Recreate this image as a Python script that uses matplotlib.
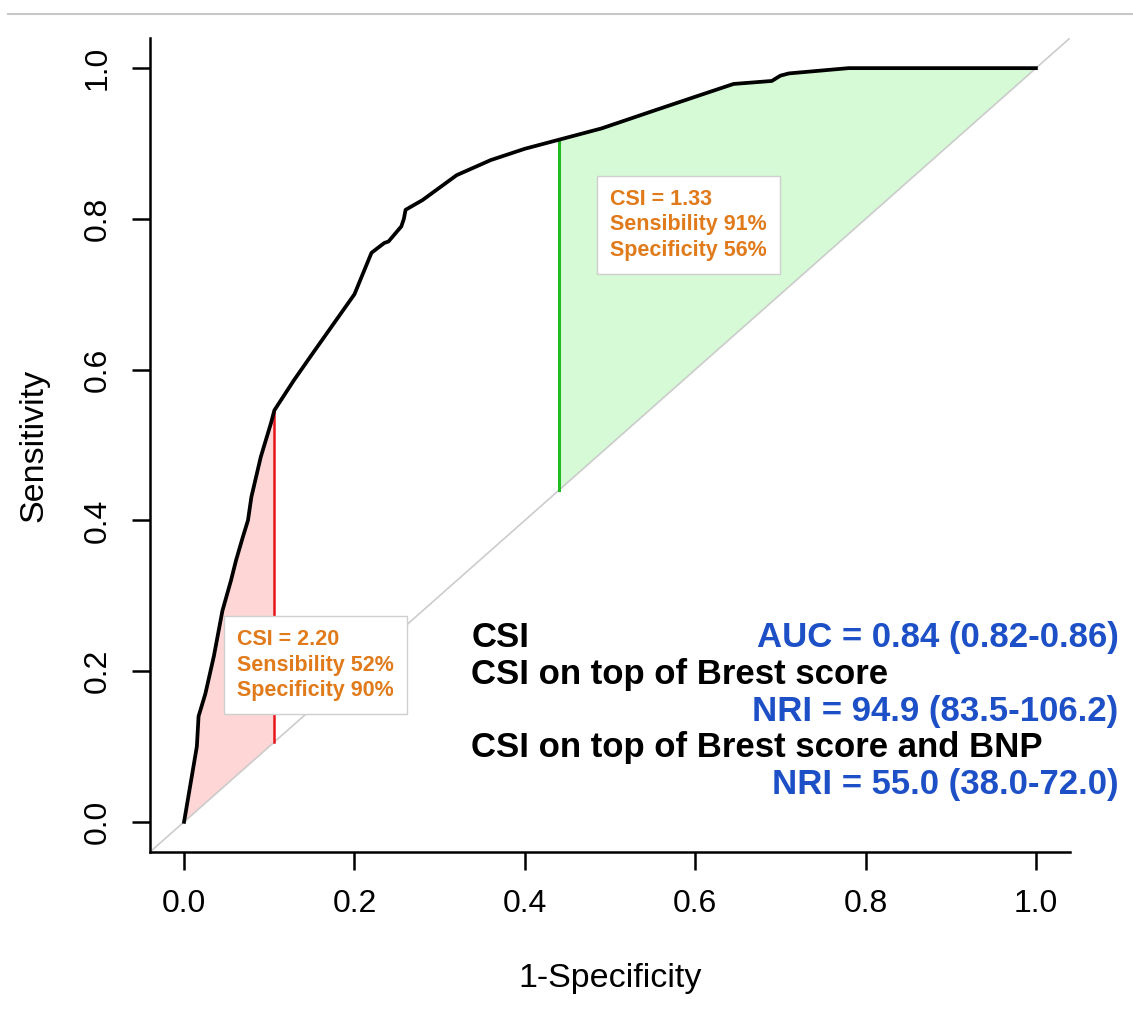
import numpy as np
import matplotlib
matplotlib.use("Agg")
from matplotlib import pyplot as plt
from matplotlib.lines import Line2D

plt.rcParams['font.family'] = ['Liberation Sans', 'DejaVu Sans']

# ROC curve
fpr = [0.0, 0.015, 0.017, 0.025, 0.035, 0.045, 0.055, 0.061, 0.069, 0.075, 0.079,
       0.09, 0.102, 0.106, 0.110, 0.129, 0.15, 0.2, 0.22, 0.235, 0.24, 0.255,
       0.258, 0.26, 0.28, 0.32, 0.36, 0.40, 0.44, 0.49, 0.55, 0.60, 0.645,
       0.69, 0.70, 0.71, 0.78, 1.0]
tpr = [0.0, 0.10, 0.14, 0.17, 0.22, 0.28, 0.32, 0.347, 0.378, 0.40, 0.431,
       0.484, 0.529, 0.546, 0.553, 0.586, 0.62, 0.70, 0.755, 0.768, 0.77, 0.79,
       0.80, 0.812, 0.825, 0.858, 0.878, 0.893, 0.905, 0.92, 0.943, 0.962, 0.979,
       0.983, 0.99, 0.993, 1.0, 1.0]

cut_red = 0.106    # CSI = 2.20
cut_green = 0.44   # CSI = 1.33

box_red = ["CSI = 2.20", "Sensibility 52%", "Specificity 90%"]
box_green = ["CSI = 1.33", "Sensibility 91%", "Specificity 56%"]

legend_left = ["CSI", "CSI on top of Brest score", "", "CSI on top of Brest score and BNP", ""]
legend_right = ["AUC = 0.84 (0.82-0.86)", "", "NRI = 94.9 (83.5-106.2)", "", "NRI = 55.0 (38.0-72.0)"]

orange = '#E07A1A'
blue = '#1D4FC6'

fpr = np.array(fpr)
tpr = np.array(tpr)

fig = plt.figure(figsize=(11.33, 10.24), dpi=100)
ax = fig.add_axes([0.1324, 0.168, 0.812, 0.7949])
ax.set_xlim(-0.04, 1.04)
ax.set_ylim(-0.04, 1.04)

# shaded areas between curve and diagonal
m = fpr <= cut_red
ax.fill_between(fpr[m], fpr[m], tpr[m], color='#FFD6D6', lw=0)
m = fpr >= cut_green
ax.fill_between(fpr[m], fpr[m], tpr[m], color='#D6FAD6', lw=0)

ax.plot([-0.1, 1.1], [-0.1, 1.1], color='#CCCCCC', lw=1.2)
ax.plot([cut_red, cut_red], [cut_red, np.interp(cut_red, fpr, tpr)], color='#E8141A', lw=1.8)
ax.plot([cut_green, cut_green], [cut_green, np.interp(cut_green, fpr, tpr)], color='#22BB22', lw=2.2)
ax.plot(fpr, tpr, color='black', lw=2.7, solid_joinstyle='round')

bbox = dict(boxstyle='square,pad=0.6', facecolor='white', edgecolor='#CFCFCF', lw=1)
ax.text(0.154, 0.208, "\n".join(box_red), color=orange, fontsize=15.5, fontweight='bold',
        va='center', ha='center', multialignment='left', linespacing=1.3, bbox=bbox, zorder=5)
ax.text(0.592, 0.792, "\n".join(box_green), color=orange, fontsize=15.5, fontweight='bold',
        va='center', ha='center', multialignment='left', linespacing=1.3, bbox=bbox, zorder=5)

rows_y = [0.245, 0.196, 0.147, 0.098, 0.049]
for y, l, r in zip(rows_y, legend_left, legend_right):
    if l:
        ax.text(0.337, y, l, color='black', fontsize=25, fontweight='bold', va='center', ha='left', clip_on=False)
    if r:
        ax.text(1.097, y, r, color=blue, fontsize=25, fontweight='bold', va='center', ha='right', clip_on=False)

for s in ['top', 'right']:
    ax.spines[s].set_visible(False)
for s in ['left', 'bottom']:
    ax.spines[s].set_linewidth(1.8)

ticks = [0.0, 0.2, 0.4, 0.6, 0.8, 1.0]
ax.set_xticks(ticks)
ax.set_yticks(ticks)
ax.set_xticklabels([f"{t:.1f}" for t in ticks])
ax.set_yticklabels([f"{t:.1f}" for t in ticks], rotation=90, va='center')
ax.tick_params(length=13, width=1.8, labelsize=23, pad=14)

ax.set_xlabel("1-Specificity", fontsize=24.5, labelpad=31)
ax.set_ylabel("Sensitivity", fontsize=24.5, labelpad=24)

fig.add_artist(Line2D([0.007, 1.0], [1 - 14 / 1024] * 2, color='#C8C8C8', lw=1.5))

fig.savefig('out.png', dpi=100)
